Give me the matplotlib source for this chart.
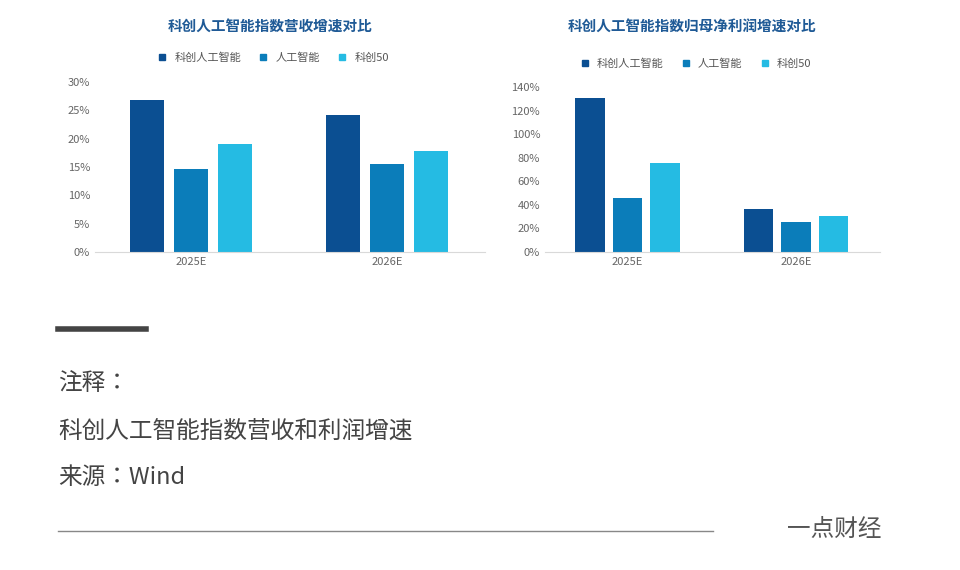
import matplotlib
matplotlib.use("Agg")
import matplotlib.pyplot as plt
from matplotlib import font_manager
import numpy as np
from matplotlib.lines import Line2D

cjk = [f.name for f in font_manager.fontManager.ttflist if "CJK" in f.name]
prefer = ["Noto Sans CJK SC", "Noto Sans CJK JP", "Noto Sans CJK TC", "Noto Sans CJK KR"]
fams = [p for p in prefer if p in cjk] + sorted(set(cjk)) + ["DejaVu Sans"]
plt.rcParams["font.family"] = "sans-serif"
plt.rcParams["font.sans-serif"] = fams

categories = ["2025E", "2026E"]
series_names = ["科创人工智能", "人工智能", "科创50"]
revenue = {"科创人工智能": [26.8, 24.2], "人工智能": [14.6, 15.6], "科创50": [19.1, 17.8]}
profit = {"科创人工智能": [131, 36.5], "人工智能": [46, 25.5], "科创50": [75.5, 30.8]}
rev_ticks = [0, 5, 10, 15, 20, 25, 30]
prof_ticks = [0, 20, 40, 60, 80, 100, 120, 140]
colors = ["#0b4f92", "#0b7dba", "#25bbe3"]

W, H = 960, 570
fig = plt.figure(figsize=(W / 100, H / 100), dpi=100)

def panel(rect, data, ticks, title, legend_y):
    ax = fig.add_axes([rect[0] / W, 1 - (rect[1] + rect[3]) / H, rect[2] / W, rect[3] / H])
    x = np.arange(len(categories))
    bw = 0.175
    for i, name in enumerate(series_names):
        ax.bar(x + (i - 1) * 0.223, data[name], bw, color=colors[i])
    ax.set_xlim(-0.49, 1.5)
    ax.set_ylim(0, ticks[-1])
    ax.set_yticks(ticks)
    ax.set_yticklabels([f"{t}%" for t in ticks], fontsize=8, color="#666666")
    ax.set_xticks(x)
    ax.set_xticklabels(categories, fontsize=8, color="#666666")
    ax.tick_params(length=0)
    for s in ["top", "right", "left"]:
        ax.spines[s].set_visible(False)
    ax.spines["bottom"].set_color("#d9d9d9")
    cx = (rect[0] + rect[2] / 2 - 20) / W
    fig.text(cx, 1 - 26 / H, title, ha="center", va="center", fontsize=10.5,
             fontweight="bold", color="#1f5a96")
    handles = [Line2D([], [], marker="s", ls="", color=c, markersize=4) for c in colors]
    fig.legend(handles, series_names, loc="center", bbox_to_anchor=(cx, 1 - legend_y / H),
               ncol=3, frameon=False, fontsize=8, handletextpad=0.1, columnspacing=1.0,
               labelcolor="#555555")
    return ax

panel((95, 82, 390, 170), revenue, rev_ticks, "科创人工智能指数营收增速对比", 58)
panel((545, 87, 335, 165), profit, prof_ticks, "科创人工智能指数归母净利润增速对比", 64)

fig.add_artist(Line2D([58 / W, 146 / W], [1 - 329 / H] * 2, color="#444444", lw=4))
fig.text(58 / W, 1 - 384 / H, "注释：", fontsize=17, color="#444444", va="center")
fig.text(58 / W, 1 - 432 / H, "科创人工智能指数营收和利润增速", fontsize=17, color="#444444", va="center")
fig.text(58 / W, 1 - 478 / H, "来源：Wind", fontsize=17, color="#444444", va="center")
fig.add_artist(Line2D([58 / W, 713 / W], [1 - 531 / H] * 2, color="#888888", lw=1))
fig.text(882 / W, 1 - 529 / H, "一点财经", fontsize=17, color="#555555", va="center", ha="right")

fig.savefig("out.png", dpi=100, facecolor="white")
